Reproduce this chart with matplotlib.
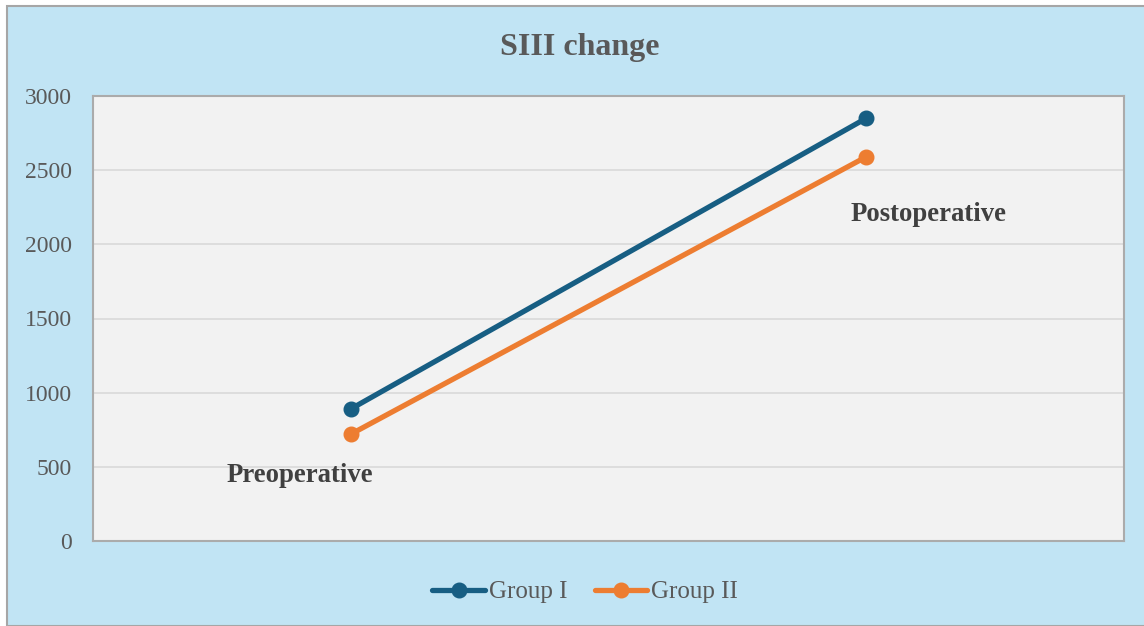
import matplotlib
matplotlib.use("Agg")
import matplotlib.pyplot as plt
from matplotlib.patches import Rectangle

categories = ["Preoperative", "Postoperative"]
group1 = [890, 2850]
group2 = [720, 2590]
series_names = ["Group I", "Group II"]
yticks = [0, 500, 1000, 1500, 2000, 2500, 3000]

plt.rcParams['font.family'] = ['Liberation Serif', 'DejaVu Serif']

W, H = 1144, 626
fig = plt.figure(figsize=(W / 100, H / 100), dpi=100, facecolor='white')
bg = Rectangle((7 / W, 0), 1.0, 1 - 6 / H, transform=fig.transFigure,
               facecolor='#C1E4F4', edgecolor='#A6A6A6', linewidth=1.5, zorder=-5)
fig.patches.append(bg)

ax = fig.add_axes([93 / W, 1 - 541 / H, (1124 - 93) / W, (541 - 96) / H])
ax.set_facecolor('#F2F2F2')
for s in ax.spines.values():
    s.set_color('#ABABAB')
    s.set_linewidth(1.5)

x = list(range(len(categories)))
colors = ['#175E83', '#ED7D31']
for vals, name, c in zip([group1, group2], series_names, colors):
    ax.plot(x, vals, color=c, linewidth=3.8, marker='o', markersize=10.5,
            label=name, solid_capstyle='round', zorder=3)

ax.set_xlim(-0.5, 1.5)
ax.set_ylim(0, 3000)
ax.set_yticks(yticks)
ax.set_xticks([])
ax.grid(axis='y', color='#D9D9D9', linewidth=1.2, zorder=0)
ax.set_axisbelow(True)
ax.tick_params(axis='y', length=0, labelsize=17, labelcolor='#595959', pad=15)

ax.text(-0.098, 440, categories[0], ha='center', va='center',
        fontsize=19.3, fontweight='bold', color='#404040')
ax.text(1.12, 2200, categories[1], ha='center', va='center',
        fontsize=19.3, fontweight='bold', color='#404040')

fig.text(580 / W, 1 - 47 / H, "SIII change", ha='center', va='center',
         fontsize=23, fontweight='bold', color='#595959')

leg = fig.legend(loc='center', bbox_to_anchor=(585 / W, 1 - 592 / H), ncol=2,
                 frameon=False, fontsize=18, handlelength=2.1, handletextpad=0.15,
                 columnspacing=1.1, labelcolor='#595959')

fig.savefig('out.png', dpi=100, facecolor=fig.get_facecolor())
